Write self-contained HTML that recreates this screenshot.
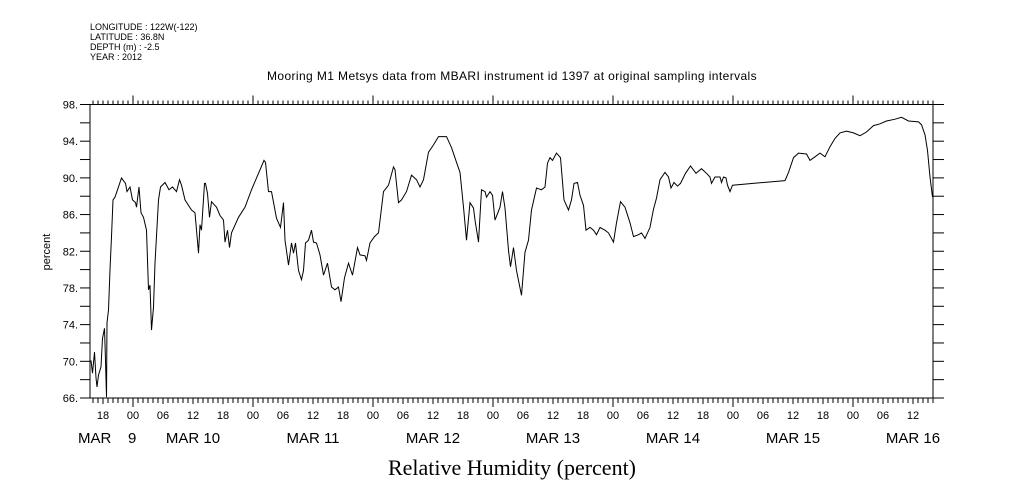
<!DOCTYPE html>
<html><head><meta charset="utf-8"><style>
body{margin:0;background:#fff;}
svg{display:block;font-family:"Liberation Sans",sans-serif;}
</style></head><body>
<svg id="chart" width="1009" height="504" viewBox="0 0 1009 504" xmlns="http://www.w3.org/2000/svg">
<g font-size="9" fill="#000">
<text x="90" y="30">LONGITUDE : 122W(-122)</text>
<text x="90" y="40">LATITUDE : 36.8N</text>
<text x="90" y="50">DEPTH (m) : -2.5</text>
<text x="90" y="60">YEAR : 2012</text>
</g>
<text x="512" y="80" font-size="12" text-anchor="middle" letter-spacing="0.4">Mooring M1 Metsys data from MBARI instrument id 1397 at original sampling intervals</text>
<text x="512" y="475" font-size="22" text-anchor="middle" font-family="Liberation Serif, serif">Relative Humidity (percent)</text>
<text x="0" y="0" font-size="11" text-anchor="middle" transform="translate(50,252) rotate(-90)">percent</text>
<g id="axes"></g>
<g id="series"></g>
</svg>
<script>
const times=[15.6,15.9,16.3,16.6,16.8,17.1,17.6,17.9,18.3,18.5,18.7,18.8,19.1,19.4,19.7,20.0,20.4,20.9,21.7,22.5,22.8,23.4,23.9,24.5,24.7,25.2,25.6,26.1,26.7,27.1,27.4,27.7,28.1,28.4,29.1,29.5,30.4,31.2,31.9,32.7,33.3,33.7,34.4,35.7,36.4,37.1,37.4,37.7,38.3,38.5,38.9,39.3,39.7,40.7,41.4,42.1,42.4,42.9,43.3,43.7,45.1,46.4,47.7,49.1,50.2,50.5,51.1,51.7,52.7,53.5,54.1,54.4,55.1,55.7,56.1,56.5,57.1,57.7,58.1,58.5,59.1,59.7,60.1,60.7,61.4,62.1,62.9,63.7,64.4,65.1,65.6,66.3,67.1,67.9,68.9,69.4,70.4,70.7,71.4,72.3,73.1,74.1,75.1,76.1,76.4,77.1,77.7,78.7,79.7,80.7,81.4,82.1,83.1,84.1,85.1,86.7,87.7,88.7,89.4,90.1,90.7,91.4,92.1,92.4,93.1,93.7,94.4,94.7,95.4,95.9,96.4,97.4,97.9,98.4,99.1,99.5,100.1,100.7,101.7,102.4,103.1,103.7,104.7,105.7,106.4,106.9,107.4,107.9,108.7,109.5,110.2,111.1,111.7,112.2,112.9,113.4,114.1,114.6,115.4,116.1,116.7,117.4,118.4,119.1,120.1,120.7,121.5,122.4,123.4,124.1,125.1,125.7,126.4,127.4,128.1,128.7,129.4,130.4,131.1,131.6,132.2,132.9,133.5,134.5,135.5,136.6,137.7,138.7,139.4,139.7,140.4,141.4,141.7,142.1,142.6,142.9,143.4,143.9,148.0,154.4,155.1,156.1,157.1,158.7,159.4,160.4,161.4,162.4,163.4,164.4,165.4,166.7,168.1,169.4,170.7,172.1,173.4,174.7,176.4,177.7,179.1,181.1,181.7,182.4,182.9,183.4,183.9];
const humidity=[70.1,68.7,71.0,68.2,67.2,68.5,69.4,72.5,73.6,70.1,66.1,74.2,75.6,80.0,83.6,87.6,87.9,88.7,90.0,89.4,88.5,89.0,87.6,87.3,86.8,89.0,86.2,85.7,84.3,77.8,78.3,73.4,75.9,80.7,87.6,89.0,89.5,88.7,89.0,88.5,89.8,89.2,87.6,86.5,86.2,81.8,84.9,84.3,89.4,89.4,88.3,85.7,87.4,86.8,85.9,85.4,83.0,84.3,82.4,84.0,85.7,86.8,88.7,90.5,91.9,91.7,88.5,88.5,85.6,84.6,87.3,83.2,80.5,82.9,81.8,82.9,79.9,78.9,79.9,82.9,83.2,84.3,83.0,82.9,81.6,79.4,80.7,78.1,77.8,78.1,76.5,79.1,80.7,79.4,82.4,81.6,81.5,81.0,82.9,83.6,84.0,88.5,89.2,91.2,90.9,87.3,87.6,88.5,90.3,89.8,89.0,89.8,92.8,93.6,94.5,94.5,93.3,91.7,90.6,86.8,83.2,87.3,86.7,85.4,83.0,88.7,88.5,87.9,88.5,88.1,85.4,86.8,88.5,86.7,82.1,80.3,82.4,79.9,77.2,81.9,83.2,86.5,88.9,88.7,89.0,91.6,92.2,91.9,92.7,92.2,87.6,86.5,87.6,89.4,89.5,88.1,87.0,84.3,84.6,84.3,83.8,84.6,84.3,84.0,83.0,85.1,87.4,86.8,85.1,83.6,83.8,84.0,83.4,84.6,86.6,87.8,89.8,90.6,90.1,88.9,89.5,89.1,89.4,90.5,91.3,90.5,91.0,90.5,90.1,89.4,90.1,90.1,89.5,90.1,90.0,89.2,88.5,89.2,89.4,89.7,90.6,92.2,92.7,92.6,91.9,92.3,92.7,92.3,93.4,94.3,94.9,95.1,94.9,94.6,95.0,95.7,95.9,96.2,96.4,96.6,96.2,96.1,95.8,94.7,93.0,90.1,87.9];
const yTickLabels=["66.","70.","74.","78.","82.","86.","90.","94.","98."];
const yTickValues=[66,70,74,78,82,86,90,94,98];
const hourLabels=["00","06","12","18"];
const dayLabels=["MAR\u00a0\u00a0\u00a0\u00a09","MAR 10","MAR 11","MAR 12","MAR 13","MAR 14","MAR 15","MAR 16"];

const L=90,R=933,T=104.5,B=398;
const t0=15.4,t1=184,v0=66,v1=98;
const xs=t=>L+(t-t0)/(t1-t0)*(R-L);
const ys=v=>B-(v-v0)/(v1-v0)*(B-T);
const NS="http://www.w3.org/2000/svg";
const axes=document.getElementById('axes');
function mk(tag,attrs,parent){const e=document.createElementNS(NS,tag);for(const k in attrs)e.setAttribute(k,attrs[k]);parent.appendChild(e);return e;}
let frame=mk('rect',{x:L,y:T,width:R-L,height:B-T,fill:'none',stroke:'#000','stroke-width':1},axes);


for(let v=v0;v<=v1;v+=2){
  let a=mk('line',{x1:L-10,x2:L,y1:ys(v),y2:ys(v),stroke:'#000'},axes);
  
  
  let b=mk('line',{x1:R,x2:R+11,y1:ys(v),y2:ys(v),stroke:'#000'},axes);
  
  
}
yTickValues.forEach((v,i)=>{
  let t=mk('text',{x:L-12,y:ys(v)+4,'font-size':11,'text-anchor':'end'},axes);
  t.textContent=yTickLabels[i];
  
  
});
for(let h=Math.ceil(t0);h<=t1;h++){
  const x=xs(h);
  const day=h%24===0, six=h%6===0;
  let a=mk('line',{x1:x,x2:x,y1:T,y2:T-(day?9:4),stroke:'#000'},axes);
  
  
  let b=mk('line',{x1:x,x2:x,y1:B,y2:B+(day?9:(six?6:5)),stroke:'#000'},axes);
  
  
  if(six){
    let t=mk('text',{x:x,y:419,'font-size':11,'text-anchor':'middle'},axes);
    t.textContent=hourLabels[(h%24)/6];
    
    
  }
}
dayLabels.forEach((d,i)=>{
  let t=mk('text',{x:i===0?78:xs(i*24+12),y:443,'font-size':15,'text-anchor':i===0?'start':'middle'},axes);
  t.textContent=d;
  
  
});
const pts=times.map((t,i)=>xs(t).toFixed(1)+','+ys(humidity[i]).toFixed(1)).join(' ');
let line=mk('polyline',{points:pts,fill:'none',stroke:'#000','stroke-width':1},document.getElementById('series'));


</script>
</body></html>
